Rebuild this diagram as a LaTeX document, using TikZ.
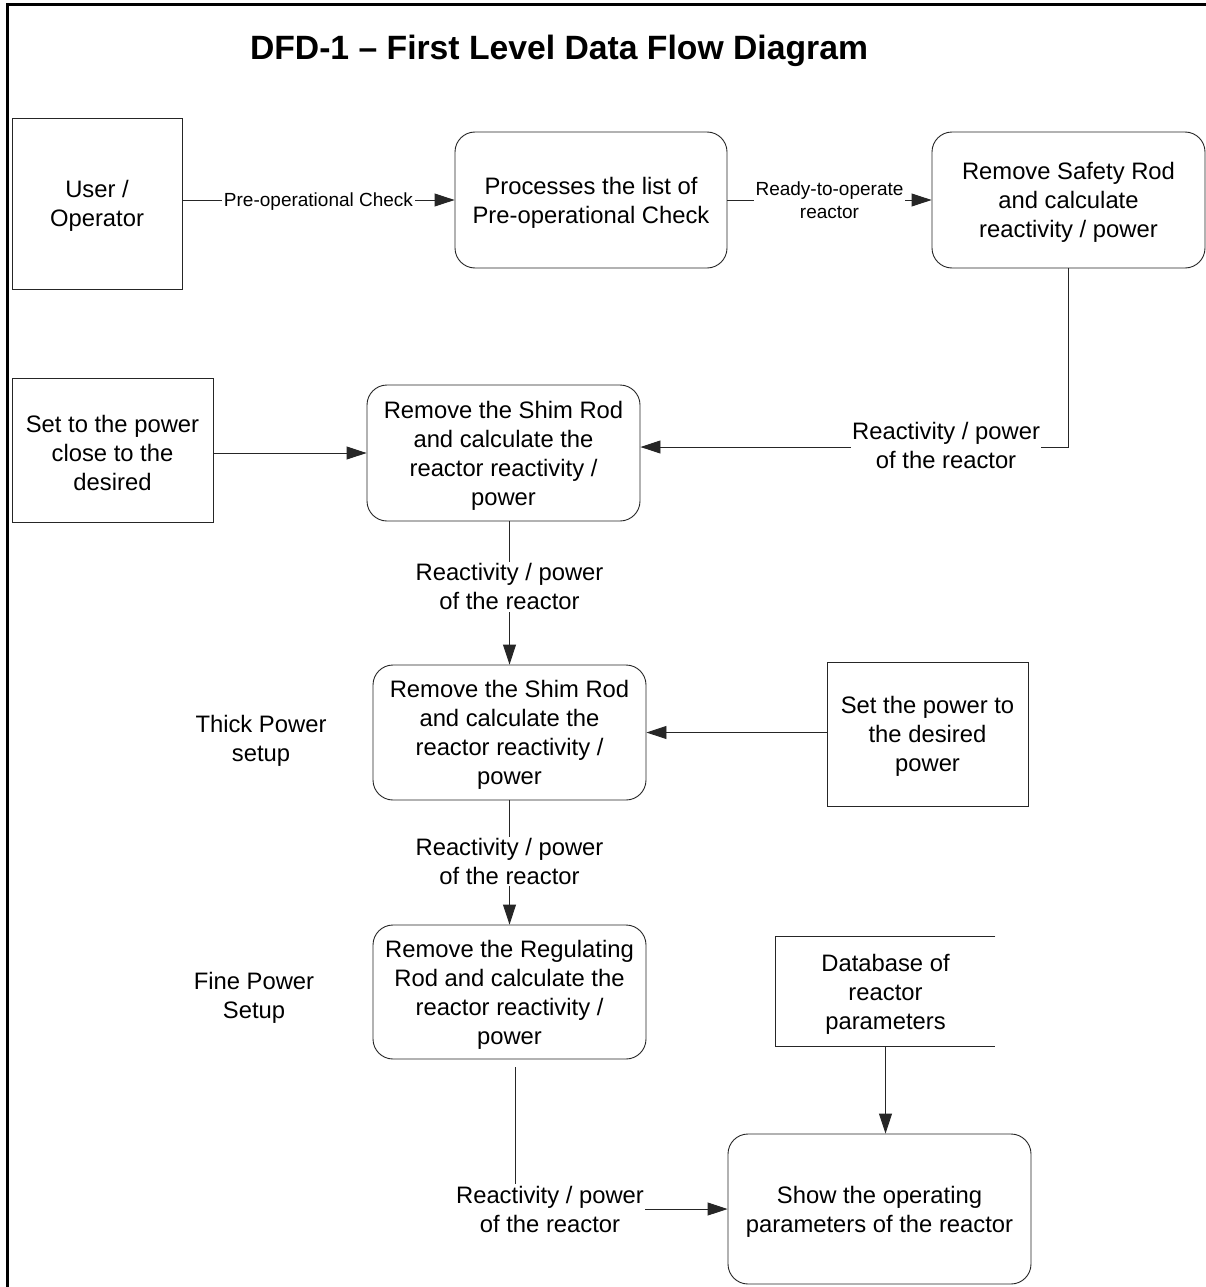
\documentclass[tikz,border=0pt]{standalone}
\usepackage{fontspec}
\setmainfont{Liberation Sans}
\usetikzlibrary{arrows.meta,calc}
\newcommand{\dfdmain}{\fontsize{23.8}{29}\selectfont}
\newcommand{\dfdsmall}{\fontsize{19}{23}\selectfont}
\newcommand{\dfdtitle}{\fontsize{33.7}{40}\selectfont\bfseries}
\newcommand{\dfdup}{\rule{0pt}{22.5pt}}
\definecolor{dfdline}{gray}{0.15}
\begin{document}
\begin{tikzpicture}[x=1pt,y=-1pt,
  box/.style={draw=dfdline, line width=0.9pt, inner sep=0pt, align=center, font=\dfdmain},
  proc/.style={box, rounded corners=20pt},
  flow/.style={draw=dfdline, line width=0.9pt, -{Triangle[length=20pt,width=13pt]}},
  lab/.style={fill=white, inner sep=1.5pt, align=center, font=\dfdmain},
  slab/.style={fill=white, inner sep=1.5pt, align=center, font=\dfdsmall},
  txt/.style={inner sep=0pt, align=center, font=\dfdmain}]
\useasboundingbox (0,0) rectangle (1206,1287);
\fill[white] (0,0) rectangle (1206,1287);
% frame
\draw[line width=3pt] (7.5,1287) -- (7.5,4.5) -- (1206,4.5);
% title
\node[inner sep=0pt, font=\dfdtitle] (title) at (559,50.5) {DFD-1 – First Level Data Flow Diagram};
% nodes
\node[box, minimum width=170pt, minimum height=171pt] (user) at (97,203.5) {\dfdup User /\\Operator};
\node[proc, minimum width=272pt, minimum height=136pt] (p1) at (591,200) {\dfdup Processes the list of\\Pre-operational Check};
\node[proc, minimum width=273pt, minimum height=136pt] (p2) at (1068.5,200) {\dfdup Remove Safety Rod\\and calculate\\reactivity / power};
\node[box, minimum width=201pt, minimum height=144pt] (set1) at (112.5,450) {\dfdup Set to the power\\close to the\\desired};
\node[proc, minimum width=273pt, minimum height=136pt] (p3) at (503.5,453) {\dfdup Remove the Shim Rod\\and calculate the\\reactor reactivity /\\power};
\node[proc, minimum width=273pt, minimum height=135pt] (p4) at (509.5,732.5) {\dfdup Remove the Shim Rod\\and calculate the\\reactor reactivity /\\power};
\node[box, minimum width=201pt, minimum height=144pt] (set2) at (927.5,734) {\dfdup Set the power to\\the desired\\power};
\node[proc, minimum width=273pt, minimum height=134pt] (p5) at (509.5,992) {\dfdup Remove the Regulating\\Rod and calculate the\\reactor reactivity /\\power};
\node[box, draw=none, minimum width=219pt, minimum height=109pt] (db) at (885.5,991.5) {\dfdup Database of\\reactor\\parameters};
\draw[dfdline, line width=0.9pt] (db.north east) -- (db.north west) -- (db.south west) -- (db.south east);
\node[proc, minimum width=303pt, minimum height=150pt] (p6) at (879.5,1209) {\dfdup Show the operating\\parameters of the reactor};
\node[txt] (thick) at (261,740.5) {Thick Power\\setup};
\node[txt] (fine) at (254,998) {Fine Power\\Setup};
% connectors
\draw[flow] (p1.west -| user.east) -- node[slab, yshift=-2pt]{Pre-operational Check} (p1.west);
\draw[flow] (p1.east) -- node[slab]{Ready-to-operate\\reactor} (p2.west);
\coordinate (c2) at ($(p3.east)+(0,-6)$);
\draw[flow] (p2.south) |- node[lab, pos=0.643, yshift=2pt]{Reactivity / power\\of the reactor} (c2);
\draw[flow] (p3.west -| set1.east) -- (p3.west);
\draw[flow] (p4.north |- p3.south) -- node[lab, pos=0.45, yshift=-1pt]{Reactivity / power\\of the reactor} (p4.north);
\draw[flow] (set2.west |- p4.east) -- (p4.east);
\draw[flow] (p4.south) -- node[lab, yshift=1pt]{Reactivity / power\\of the reactor} (p5.north);
\coordinate (c5) at ($(p5.south)+(5.5,8)$);
\draw[flow] (c5) |- (p6.west);
\node[lab] (l5) at (550,1209) {Reactivity / power\\of the reactor};
\draw[flow] (db.south) -- (db.south |- p6.north);
\end{tikzpicture}
\end{document}
